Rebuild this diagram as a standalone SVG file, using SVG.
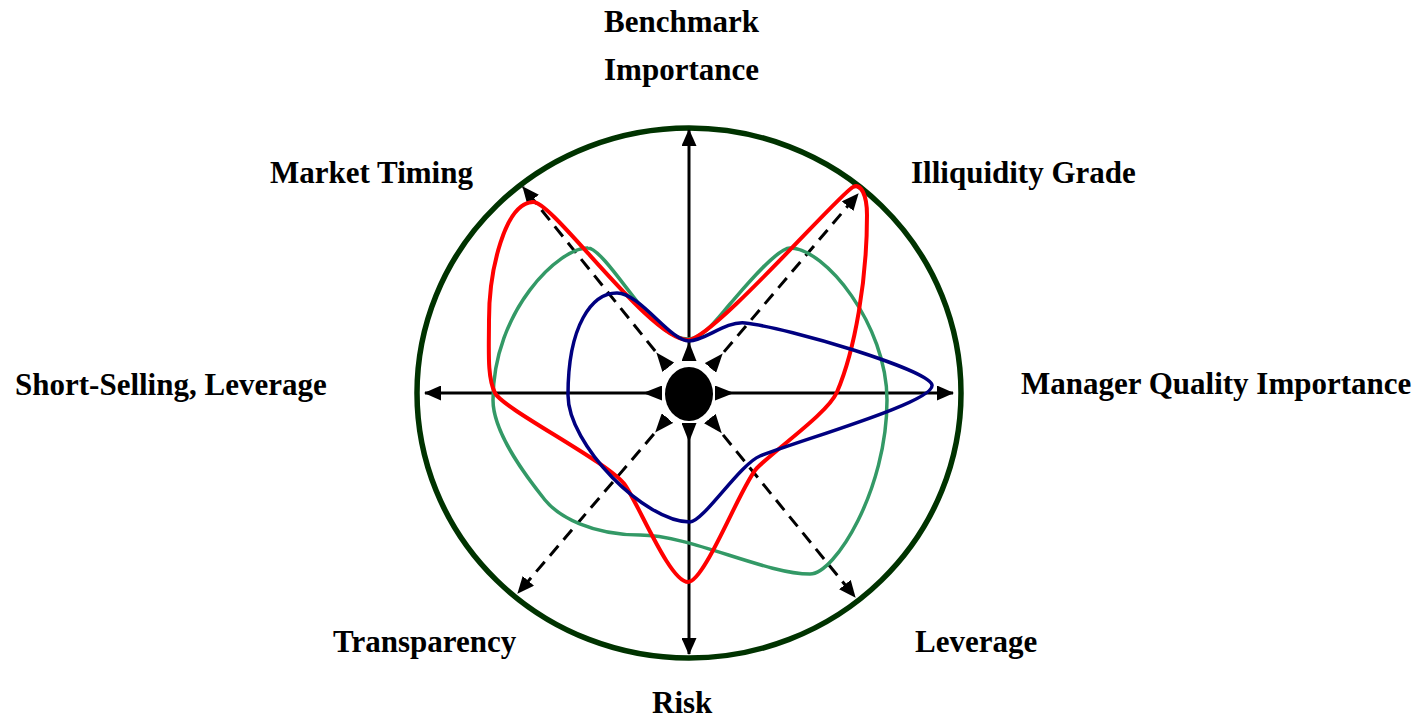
<svg xmlns="http://www.w3.org/2000/svg" width="1425" height="720" viewBox="0 0 1425 720">
<style>
.lbl{font-family:"Liberation Serif","Times New Roman",serif;font-weight:bold;font-size:31px;fill:#000}
.axis{fill:none;stroke:#000;stroke-width:3}
.dash{fill:none;stroke:#000;stroke-width:3;stroke-dasharray:13 8}
.curve{fill:none;stroke-linejoin:round}
</style>
<defs>
<marker id="tip" markerUnits="userSpaceOnUse" viewBox="0 0 17 15" refX="16" refY="7.5" markerWidth="17" markerHeight="15" orient="auto"><path d="M0,0 L17,7.5 L0,15 Z" fill="#000"/></marker>
<marker id="inner" markerUnits="userSpaceOnUse" viewBox="0 0 19 15" refX="0" refY="7.5" markerWidth="19" markerHeight="15" orient="auto"><path d="M0,0 L19,7.5 L0,15 Z" fill="#000"/></marker>
</defs>
<rect width="1425" height="720" fill="#fff"/>
<g id="frame"><ellipse cx="689" cy="393" rx="272" ry="265" fill="none" stroke="#003300" stroke-width="5.5"/></g>
<g id="connectors">
<path class="axis" d="M689,361 L689,130" marker-start="url(#inner)" marker-end="url(#tip)"/>
<path class="axis" d="M689,423 L689,654" marker-start="url(#inner)" marker-end="url(#tip)"/>
<path class="axis" d="M662,393 L425,393" marker-start="url(#inner)" marker-end="url(#tip)"/>
<path class="axis" d="M715,393 L953,393" marker-start="url(#inner)" marker-end="url(#tip)"/>
<path class="dash" d="M668.3,367.3 L523,187" marker-start="url(#inner)" marker-end="url(#tip)"/>
<path class="dash" d="M710.4,367.9 L858,194" marker-start="url(#inner)" marker-end="url(#tip)"/>
<path class="dash" d="M667.5,418.1 L518,593" marker-start="url(#inner)" marker-end="url(#tip)"/>
<path class="dash" d="M709.8,418.6 L855,597" marker-start="url(#inner)" marker-end="url(#tip)"/>
</g>
<g id="center"><ellipse cx="689" cy="394" rx="24" ry="27" fill="#000"/></g>
<g id="curves">
<path id="green" class="curve" stroke="#339966" stroke-width="3.5" d="M688,339 C672,339 657,324 645,311 C630,295 600,248 588,248 C560,247 493,310 493,400 C493,435 531,482.5 545,500 C559,517 592,535 640,535 C690,535 765,574 810,574 C835,574 887,490 887,400 C887,325 825,248 790,248 C777,248 743,289 730,304 C717,319 703,339 688,339 Z"/>
<path id="red" class="curve" stroke="#ff0000" stroke-width="4" d="M688,340 C712,340 840,193 853,187 C861,183 867,195 867,215 C867,280 855,350 837,392 C828,413 777,448 757,468 C742,483 705,582 688,582 C670,582 640,507 625,485 C610,463 503,409 495,393 C487,377 489,350 489,320 C489,270 505,203 533,202 C553,201 650,340 688,340 Z"/>
<path id="blue" class="curve" stroke="#000080" stroke-width="3.5" d="M689,341 C670,341 640,293 617,293 C592,293 568,325 568,395 C568,445 645,522 690,522 C703,522 740,464 760,456 C800,440 935,402 932,385 C929,370 790,328 745,323 C725,321 705,341 689,341 Z"/>
</g>
<g id="label-benchmark"><text class="lbl" x="604" y="32">Benchmark</text><text class="lbl" x="604" y="80">Importance</text></g>
<g id="label-market-timing"><text class="lbl" x="270" y="183">Market Timing</text></g>
<g id="label-illiquidity"><text class="lbl" x="911" y="183">Illiquidity Grade</text></g>
<g id="label-short-selling"><text class="lbl" x="15" y="395">Short-Selling, Leverage</text></g>
<g id="label-manager"><text class="lbl" x="1021" y="394">Manager Quality Importance</text></g>
<g id="label-transparency"><text class="lbl" x="333" y="652">Transparency</text></g>
<g id="label-leverage"><text class="lbl" x="915" y="652">Leverage</text></g>
<g id="label-risk"><text class="lbl" x="652" y="713">Risk</text></g>
</svg>
